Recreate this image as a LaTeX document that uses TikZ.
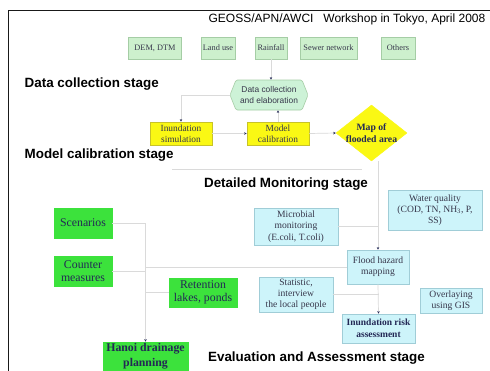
\documentclass[tikz,border=0pt]{standalone}
\usepackage{fontspec}
\setmainfont{Liberation Serif}
\setsansfont{Liberation Sans}
\usetikzlibrary{arrows.meta,shapes.geometric}

\definecolor{paleGreen}{RGB}{205,240,205}
\definecolor{paleGreenLine}{RGB}{165,205,165}
\definecolor{mint}{RGB}{205,242,215}
\definecolor{brightGreen}{RGB}{60,226,60}
\definecolor{lemon}{RGB}{250,248,20}
\definecolor{lemonLine}{RGB}{200,195,40}
\definecolor{paleCyan}{RGB}{205,244,250}
\definecolor{paleCyanLine}{RGB}{160,205,215}
\definecolor{inkBlue}{RGB}{35,40,85}
\definecolor{inkGrey}{RGB}{55,55,75}
\definecolor{wire}{RGB}{218,218,218}

\tikzset{
  box/.style={rectangle, inner sep=1pt, align=center, line width=0.6pt},
  sourcebox/.style={box, fill=paleGreen, draw=paleGreenLine, text=inkGrey,
    minimum height=22, font=\fontsize{8.3}{10}\selectfont},
  modelbox/.style={box, fill=lemon, draw=lemonLine, text=inkGrey,
    minimum width=62, minimum height=23, font=\fontsize{9.4}{11}\selectfont},
  monitorbox/.style={box, fill=paleCyan, draw=paleCyanLine, text=inkGrey,
    font=\fontsize{9.6}{11.2}\selectfont},
  planbox/.style={box, fill=brightGreen, draw=brightGreen, text=inkBlue,
    font=\fontsize{11.8}{13.5}\selectfont},
  stagelabel/.style={inner sep=0pt, text=black,
    font=\sffamily\bfseries\fontsize{13.4}{15}\selectfont},
  wireline/.style={draw=wire, line width=0.7pt},
  flow/.style={wireline, -{Stealth[length=2.6pt,width=2.4pt,color=inkBlue]}},
}

\begin{document}
\begin{tikzpicture}[x=1pt,y=-1pt]
  \useasboundingbox (0,0) rectangle (490,370);
  \clip (0,0) rectangle (490,370);
  \fill[white] (0,0) rectangle (490,370);

  % slide frame
  \draw[line width=1.6pt, black!90] (8.5,372) -- (8.5,10.5) -- (492,10.5);

  % header
  \node[anchor=east, inner sep=0pt, font=\sffamily\fontsize{12}{14}\selectfont]
    (header) at (485.5,19.5) {GEOSS/APN/AWCI\hspace{0.55em} Workshop in Tokyo, April 2008};

  % data sources
  \node[sourcebox, minimum width=53] (dem) at (155,48) {DEM, DTM};
  \node[sourcebox, minimum width=34] (land) at (218,48) {Land use};
  \node[sourcebox, minimum width=32] (rain) at (271,48) {Rainfall};
  \node[sourcebox, minimum width=57] (sewer) at (328.5,48) {Sewer network};
  \node[sourcebox, minimum width=34] (others) at (398,48) {Others};

  % data collection hexagon
  \fill[mint, draw=paleGreenLine, line width=0.6pt, rounded corners=1.5pt]
    (230,95) -- (236,80) -- (302,80) -- (308,95) -- (302,110) -- (236,110) -- cycle;
  \node[box, minimum width=78, minimum height=30, text=inkGrey,
    font=\sffamily\fontsize{8.4}{10.5}\selectfont] (dce) at (269,95)
    {Data collection\\and elaboration};

  \node[stagelabel, anchor=west] (stage1) at (24.5,84) {Data collection stage};

  % model calibration stage
  \node[modelbox] (inun) at (181,133.5) {Inundation\\simulation};
  \node[modelbox] (model) at (278,133.5) {Model\\calibration};
  \node[shape=diamond, aspect=1.27, fill=lemon, draw=lemon, inner xsep=-4pt,
    inner ysep=0pt, minimum width=71, minimum height=56, align=center,
    text=inkBlue, font=\bfseries\fontsize{9.7}{11.5}\selectfont]
    (map) at (371.5,133) {Map of\\flooded area};

  \node[stagelabel, anchor=west] (stage2) at (24.5,155) {Model calibration stage};

  \draw[wireline] (172,169) -- (362,169);

  \draw[flow] (rain.south) -- (rain.south |- dce.north);
  \draw[flow] (dce.west) -| (inun.north);
  \draw[flow] (model.north) -- (model.north |- dce.south);
  \draw[flow] (inun.east) -- (model.west);
  \draw[flow] (model.east) -- (map.west);

  % detailed monitoring stage
  \node[stagelabel] (stage3) at (286,184.5) {Detailed Monitoring stage};

  \node[monitorbox, minimum width=94, minimum height=40] (water) at (435,210)
    {Water quality\\(COD, TN, NH\textsubscript{3}, P,\\SS)};
  \node[monitorbox, minimum width=84, minimum height=37] (micro) at (296,226.5)
    {Microbial\\monitoring\\(E.coli, T.coli)};
  \node[monitorbox, minimum width=62, minimum height=34] (fh) at (378,267)
    {Flood hazard\\mapping};
  \node[monitorbox, minimum width=74, minimum height=35] (stat) at (296,294.5)
    {Statistic,\\interview\\the local people};
  \node[monitorbox, minimum width=62, minimum height=25] (gis) at (451,300.5)
    {Overlaying\\using GIS};
  \node[monitorbox, minimum width=73, minimum height=29, text=inkBlue,
    font=\bfseries\fontsize{9.5}{12}\selectfont] (risk) at (378.5,328.5)
    {Inundation risk\\assessment};

  \draw[wireline] (micro.east) -- (micro.east -| fh.north);
  \draw[flow] (fh.north |- map.south) -- (fh.north);
  \draw[flow] (fh.south) -- (risk.north);
  \draw[wireline] (stat.east) -- (stat.east -| risk.north);

  % evaluation and assessment stage
  \node[planbox, minimum width=58, minimum height=30] (scen) at (83,223) {Scenarios};
  \node[planbox, minimum width=58, minimum height=30] (counter) at (83,271)
    {Counter\\measures};
  \node[planbox, minimum width=68, minimum height=29] (ret) at (203,292.5)
    {Retention\\lakes, ponds};
  \node[planbox, minimum width=85, minimum height=28, inner ysep=0pt,
    font=\bfseries\fontsize{11.8}{14.5}\selectfont] (hanoi) at (145.5,356)
    {Hanoi drainage\\planning};

  \draw[wireline] (scen.east) -- (scen.east -| hanoi.north);
  \draw[flow] (scen.east -| hanoi.north) -- (hanoi.north);
  \draw[wireline] (counter.east) -- (counter.east -| hanoi.north);
  \draw[wireline] (ret.west) -- (ret.west -| hanoi.north);
  \draw[wireline] (fh.west) -- (fh.west -| hanoi.north);

  \node[stagelabel] (stage4) at (316.5,358.5) {Evaluation and Assessment stage};
\end{tikzpicture}
\end{document}
